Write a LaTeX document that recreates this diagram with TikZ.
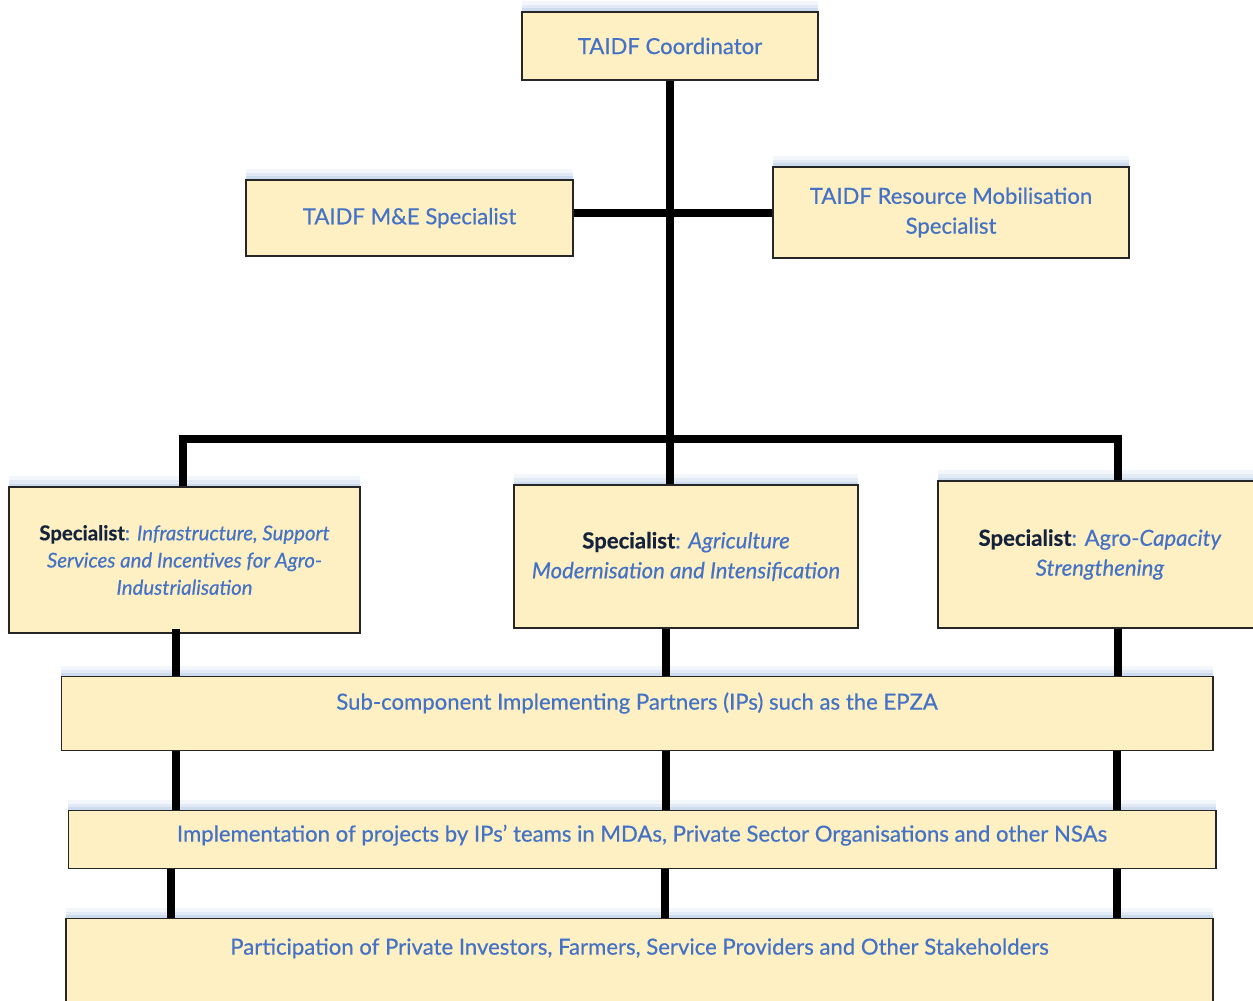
\documentclass[tikz,border=0pt]{standalone}
\usepackage{fontspec}
\setmainfont{Lato}[FakeBold=0.5]
\usetikzlibrary{shadows, calc}
\definecolor{boxFill}{HTML}{FFF0C4}
\definecolor{textBlue}{HTML}{4472C4}
\definecolor{glowBlue}{HTML}{9DB9DD}
\colorlet{specNavy}{textBlue!30!black}

\tikzset{
  orgbox/.style={draw=black!85, line width=0.7pt, fill=boxFill, text=textBlue,
    align=center, font=\fontsize{12.6}{17}\selectfont,
    general shadow={fill=glowBlue, opacity=.12, shadow yshift=6pt},
    general shadow={fill=glowBlue, opacity=.2, shadow yshift=4pt},
    general shadow={fill=glowBlue, opacity=.3, shadow yshift=2pt}},
  link/.style={line width=4.2pt, black}
}
\newcommand{\spec}{\textbf{\color{specNavy}Specialist}:}

\begin{document}
\begin{tikzpicture}[x=0.02cm, y=-0.02cm]
  \useasboundingbox (0,0) rectangle (1253,1000);

  % Management level
  \node[orgbox, minimum width=5.92cm, minimum height=1.36cm] (coord) at (670,46) {TAIDF Coordinator};
  \node[orgbox, minimum width=6.54cm, minimum height=1.52cm] (mne) at (409.5,218) {TAIDF M\&E Specialist};
  \node[orgbox, minimum width=7.12cm, minimum height=1.82cm] (resmob) at (951,212.5)
    {TAIDF Resource Mobilisation\\Specialist};

  % Specialists
  \node[orgbox, minimum width=7.02cm, minimum height=2.92cm, font=\fontsize{11.6}{15.5}\selectfont] (spec1) at (184.5,560)
    {\spec{} \textit{Infrastructure, Support}\\\textit{Services and Incentives for Agro-}\\\textit{Industrialisation}};
  \node[orgbox, minimum width=6.88cm, minimum height=2.86cm] (spec2) at (686,556.5)
    {\spec{} \textit{Agriculture}\\\textit{Modernisation and Intensification}};
  \node[orgbox, minimum width=6.48cm, minimum height=2.94cm] (spec3) at (1100,554.5)
    {\spec{} Agro-\textit{Capacity}\\\textit{Strengthening}};

  % Implementation levels
  \node[orgbox, anchor=north, inner ysep=0pt, minimum width=23.04cm, text height=0.66cm, text depth=0.82cm] (ips) at (637,676)
    {Sub-component Implementing Partners (IPs) such as the EPZA};
  \node[orgbox, anchor=north, inner ysep=0pt, minimum width=22.96cm, text height=0.62cm, text depth=0.54cm] (impl) at (642,810)
    {Implementation of projects by IPs’ teams in MDAs, Private Sector Organisations and other NSAs};
  \node[orgbox, anchor=north, inner ysep=0pt, minimum width=22.94cm, text height=0.72cm, text depth=1.12cm] (part) at (639.5,918)
    {Participation of Private Investors, Farmers, Service Providers and Other Stakeholders};

  % Connectors
  \coordinate (mid) at (672,213);
  \coordinate (busL) at (183,439);
  \coordinate (busR) at (1118,439);
  \draw[link] (coord.south) -- (coord.south |- spec2.north);
  \draw[link] (mne.east |- mid) -- (resmob.west |- mid);
  \draw[link, line cap=rect] (busL) -- (busR);
  \draw[link] (busL) -- (busL |- spec1.north);
  \draw[link] (busR) -- (busR |- spec3.north);

  \foreach \col in {176,666,1118}
    \draw[link] ($(\col,0)!(spec2.south)!(\col,1)$) -- (ips.north -| \col,0);
  \foreach \col in {176,666,1117}
    \draw[link] (ips.south -| \col,0) -- (impl.north -| \col,0);
  \foreach \col in {171,665,1117}
    \draw[link] (impl.south -| \col,0) -- (part.north -| \col,0);
\end{tikzpicture}
\end{document}
